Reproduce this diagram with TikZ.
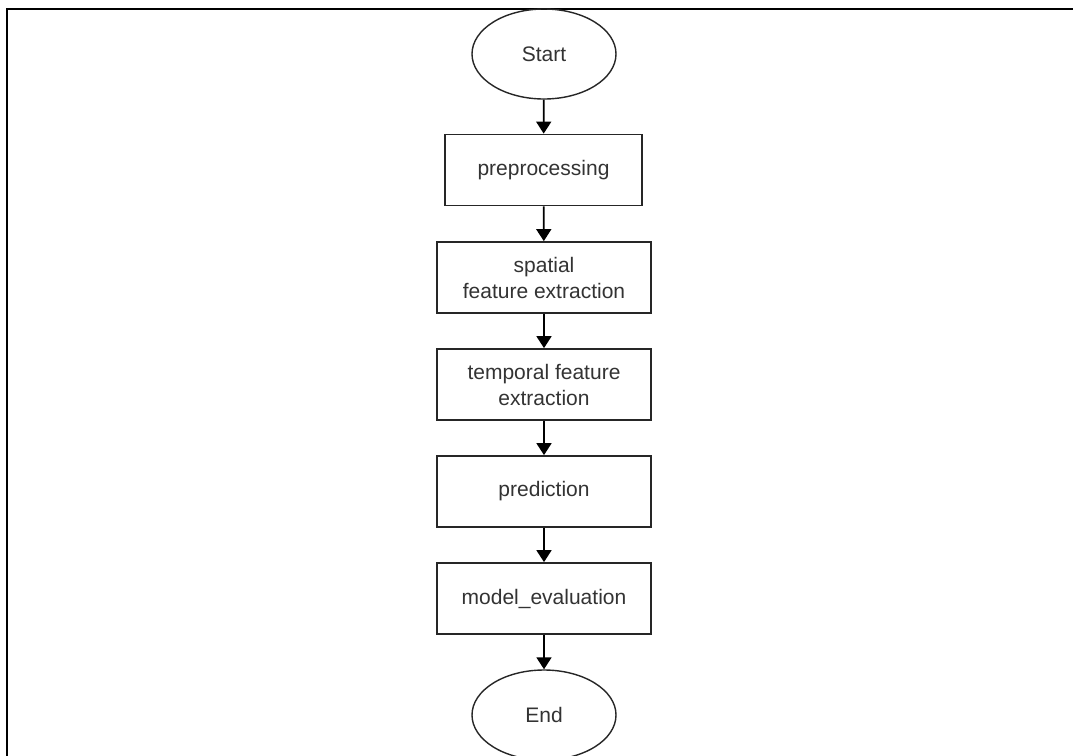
\documentclass[tikz,border=0pt]{standalone}
\usepackage{fontspec}
\setmainfont{Liberation Sans}
\usetikzlibrary{shapes.geometric,arrows.meta}
\begin{document}
\begin{tikzpicture}[x=1pt,y=-1pt,
  every node/.style={font=\fontsize{21}{26}\selectfont, text=black!80},
  terminal/.style={ellipse, draw=black!85, line width=1.4pt, minimum width=144pt, minimum height=90pt, inner sep=0pt},
  stepbox/.style={rectangle, draw=black!85, line width=1.8pt, minimum height=71pt, inner sep=0pt, align=center},
  flow/.style={line width=1.8pt, -{Triangle[length=12pt,width=15pt]}}]
  \useasboundingbox (0,0) rectangle (1073,755);
  \clip (0,0) rectangle (1073,755);
  \fill[white] (0,0) rectangle (1073,755);
  % frame
  \draw[line width=2.2pt] (1080,9) -- (7,9) -- (7,760);
  % flowchart nodes
  \node[terminal] (start) at (544,54) {Start};
  \node[stepbox, minimum width=197pt] (pre) at (543.5,170) {preprocessing};
  \node[stepbox, minimum width=214pt] (spa) at (544,277.5) {spatial\\feature extraction};
  \node[stepbox, minimum width=214pt] (tem) at (544,384.5) {temporal feature\\extraction};
  \node[stepbox, minimum width=214pt] (pred) at (544,491.5) {prediction};
  \node[stepbox, minimum width=214pt] (eval) at (544,598.5) {model\_evaluation};
  \node[terminal] (end) at (544,715) {End};
  % connectors
  \draw[flow] (start) -- (pre);
  \draw[flow] (pre) -- (spa);
  \draw[flow] (spa) -- (tem);
  \draw[flow] (tem) -- (pred);
  \draw[flow] (pred) -- (eval);
  \draw[flow] (eval) -- (end);
\end{tikzpicture}
\end{document}
